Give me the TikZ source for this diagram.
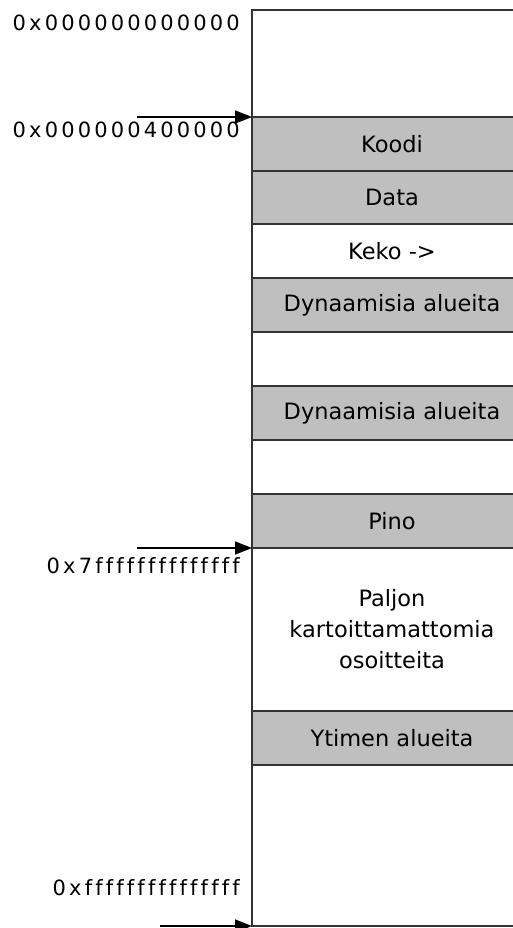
\documentclass[tikz,border=0pt]{standalone}
\usepackage{fontspec}
\setmainfont{DejaVu Sans}
\newfontfamily\addrfont[LetterSpace=15,Ligatures=NoCommon]{DejaVu Sans}
\usetikzlibrary{arrows.meta}

\begin{document}
\begin{tikzpicture}[x=1pt,y=-1pt,
	region/.style={draw=black!80, line width=1.3pt, anchor=north west, inner sep=0pt, outer sep=0pt,
		minimum width=280pt, align=center, font=\fontsize{22.5}{31}\selectfont},
	addr/.style={anchor=base east, inner sep=0pt, font=\addrfont\fontsize{21}{24}\selectfont},
	pointer/.style={-{Triangle[length=17pt,width=13pt]}, line width=1.7pt}]
	\useasboundingbox (0,0) rectangle (512,928);
	% address space, from low to high addresses
	\foreach 
	\id/\ytop/\h/\filled/\txt
	in
	{
		free/10/107/0/{},
		koodi/117/54/1/Koodi,
		data/171/53/1/Data,
		keko/224/54/0/{Keko ->},
		dynA/278/54/1/Dynaamisia alueita,
		gapA/332/54/0/{},
		dynB/386/54/1/Dynaamisia alueita,
		gapB/440/54/0/{},
		pino/494/54/1/Pino,
		unmapped/548/163/0/{Paljon\\kartoittamattomia\\osoitteita},
		ytimen/711/54/1/Ytimen alueita,
		tail/765/161/0/{}
	}
	{
		\if\filled1
		\node[region, fill=black!25, minimum height=\h pt] (\id) at (252,\ytop) {\txt};
		\else
		\node[region, fill=white, minimum height=\h pt] (\id) at (252,\ytop) {\txt};
		\fi
	}
	% addresses
	\node[addr] (lowaddr) at (240,31) {0x000000000000};
	\node[addr] (codeaddr) at (240,138) {0x000000400000};
	\node[addr] (useraddr) at (240,573) {0x7ffffffffffffff};
	\node[addr] (topaddr) at (240,895) {0xfffffffffffffff};
	% pointers to region borders
	\coordinate (p1) at (137,117);
	\coordinate (p2) at (137,548);
	\coordinate (p3) at (160,926);
	\draw[pointer] (p1) -- (koodi.north west);
	\draw[pointer] (p2) -- (pino.south west);
	\draw[pointer] (p3) -- (tail.south west);
\end{tikzpicture}
\end{document}
